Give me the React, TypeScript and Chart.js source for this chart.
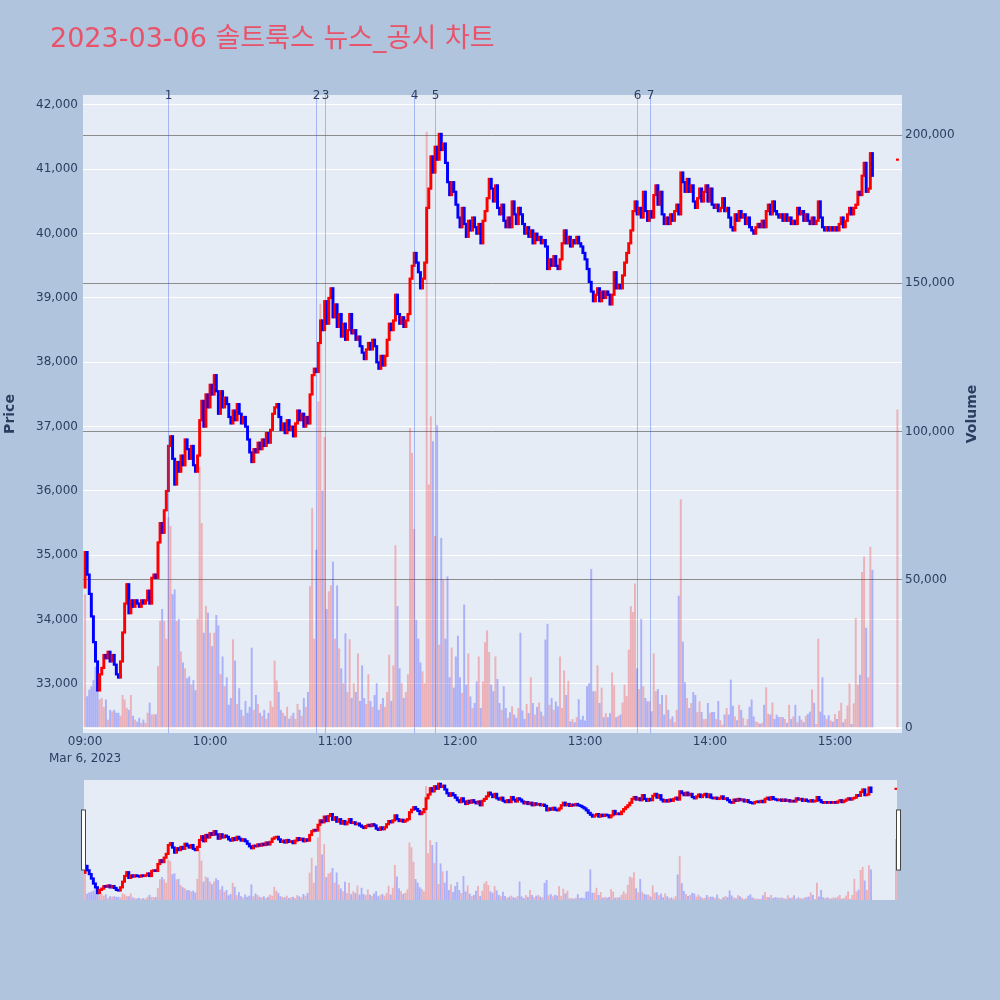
import { useEffect, useRef } from 'react';
import { Chart, registerables } from 'chart.js';

Chart.register(...registerables);

// ---- data ----
const titleText = '2023-03-06 솔트룩스 뉴스_공시 차트';
const dateLabel = 'Mar 6, 2023';
const hourTicks = [0, 60, 120, 180, 240, 300, 360]; // minutes after 09:00
const hourLabels = ['09:00', '10:00', '11:00', '12:00', '13:00', '14:00', '15:00'];
const priceTicks = [33000, 34000, 35000, 36000, 37000, 38000, 39000, 40000, 41000, 42000];
const volumeTicks = [0, 50000, 100000, 150000, 200000];

// news / disclosure markers (minutes after 09:00)
const newsMinutes = [40, 111, 115, 158, 168, 265, 271];
const newsLabels = ['1', '2', '3', '4', '5', '6', '7'];

// 1-minute closes from 09:00, open = previous close
const firstOpen = 34500;
const closes = [
  35050, 34700, 34400, 34050, 33650, 33350, 32900, 33150, 33250, 33450,
  33400, 33500, 33350, 33450, 33300, 33150, 33100, 33350, 33800, 34250,
  34550, 34100, 34300, 34200, 34300, 34250, 34200, 34300, 34250, 34300,
  34450, 34250, 34650, 34700, 34650, 35200, 35500, 35350, 35700, 36000,
  36700, 36850, 36500, 36100, 36450, 36300, 36550, 36400, 36800, 36650,
  36500, 36700, 36400, 36300, 36550, 37100, 37400, 37000, 37500, 37300,
  37650, 37500, 37800, 37550, 37200, 37550, 37300, 37450, 37350, 37150,
  37050, 37250, 37100, 37350, 37200, 37050, 37150, 37000, 36800, 36600,
  36450, 36650, 36600, 36750, 36650, 36800, 36700, 36900, 36750, 36950,
  37200, 37300, 37350, 37150, 36950, 37050, 36900, 37100, 36950, 37000,
  36850, 37050, 37250, 37100, 37200, 37000, 37150, 37050, 37500, 37800,
  37900, 37850, 38300, 38650, 38500, 38950, 38600, 39000, 39150, 38700,
  38900, 38550, 38750, 38400, 38600, 38350, 38500, 38750, 38450, 38500,
  38350, 38400, 38250, 38150, 38050, 38200, 38300, 38200, 38350, 38250,
  38000, 37900, 38100, 37950, 38100, 38350, 38600, 38500, 38650, 39050,
  38750, 38600, 38700, 38550, 38650, 38750, 39300, 39500, 39700, 39550,
  39400, 39150, 39300, 39550, 40400, 40700, 41200, 40950, 41350, 41150,
  41550, 41300, 41400, 41100, 40800, 40600, 40800, 40650, 40450, 40250,
  40100, 40400, 40150, 39950, 40200, 40050, 40250, 40100, 40000, 40150,
  39850, 40200, 40350, 40550, 40850, 40700, 40500, 40750, 40400, 40300,
  40450, 40200, 40100, 40250, 40100, 40500, 40300, 40150, 40400, 40300,
  40150, 40000, 40100, 39950, 40050, 39850, 40000, 39900, 39950, 39850,
  39900, 39800, 39450, 39600, 39500, 39650, 39500, 39450, 39600, 39850,
  40050, 39850, 39950, 39800, 39900, 39850, 39950, 39850, 39800, 39700,
  39600, 39450, 39250, 39100, 38950, 39050, 39150, 38950, 39100, 39000,
  39100, 39050, 38900, 39050, 39400, 39150, 39200, 39150, 39350, 39550,
  39700, 39850, 40050, 40350, 40500, 40300, 40400, 40250, 40650, 40350,
  40200, 40350, 40250, 40600, 40750, 40450, 40650, 40300, 40150, 40250,
  40150, 40300, 40200, 40350, 40450, 40300, 40950, 40800, 40650, 40850,
  40650, 40750, 40500, 40400, 40550, 40700, 40500, 40650, 40750, 40500,
  40700, 40450, 40400, 40450, 40350, 40400, 40550, 40350, 40400, 40250,
  40100, 40050, 40300, 40200, 40350, 40250, 40300, 40150, 40250, 40100,
  40050, 40000, 40100, 40150, 40100, 40200, 40100, 40350, 40450, 40300,
  40500, 40350, 40300, 40250, 40300, 40200, 40300, 40200, 40250, 40150,
  40200, 40150, 40400, 40300, 40350, 40200, 40300, 40200, 40150, 40250,
  40150, 40200, 40500, 40250, 40100, 40050, 40100, 40050, 40100, 40050,
  40100, 40050, 40150, 40250, 40100, 40200, 40300, 40400, 40300, 40400,
  40450, 40650, 40600, 40900, 41100, 40650, 40700, 41250, 40900,
];

const volumes = [
  45000, 10600, 12800, 13900, 16000, 20600, 12300, 9500, 10000, 7000,
  9500, 2700, 6000, 5500, 6000, 5000, 5000, 4000, 11000, 9500,
  6700, 6000, 11000, 4000, 2700, 2000, 3300, 1600, 2700, 1600,
  5000, 8400, 4500, 4500, 4500, 20700, 36000, 40000, 36000, 30000,
  71000, 68000, 45000, 46600, 36000, 36700, 25700, 22000, 20000, 16700,
  17300, 14600, 16000, 12600, 36700, 88000, 69000, 32000, 41000, 38800,
  32000, 27500, 32000, 38000, 34500, 18000, 24000, 14000, 17000, 7700,
  10000, 29800, 22600, 8000, 13300, 6000, 4000, 9000, 5000, 7000,
  27000, 6000, 11000, 8000, 5000, 4000, 6000, 3000, 5000, 9000,
  7000, 22600, 15900, 12000, 6000, 5000, 4000, 7000, 3000, 4000,
  5000, 3000, 8000, 6000, 4000, 10000, 7000, 12000, 47700, 74000,
  30000, 60000, 110000, 143000, 80000, 98000, 40000, 46000, 48000, 56000,
  30000, 48000, 26700, 20000, 15000, 31800, 12000, 29800, 10000, 15000,
  12000, 25000, 9000, 21000, 10000, 8000, 18000, 9000, 7000, 11000,
  15000, 6000, 8000, 10000, 7000, 12000, 24600, 9000, 21000, 61500,
  41000, 20000, 15000, 10000, 12000, 18000, 101000, 92600, 67000, 36400,
  30000, 22000, 19000, 15000, 201000, 82000, 105000, 96600, 64600, 102000,
  28000, 64000, 50000, 30000, 51000, 17000, 27000, 13500, 24000, 31000,
  17000, 11700, 41500, 14500, 25000, 10500, 6600, 8300, 15600, 24000,
  6600, 15600, 28800, 32800, 25500, 14500, 12300, 24000, 16400, 8300,
  6000, 14000, 6600, 3300, 5200, 7200, 4400, 3300, 6600, 32000,
  5800, 2900, 8000, 4900, 17000, 8300, 4400, 7000, 8500, 5400,
  4000, 29700, 35000, 7700, 10000, 6000, 8800, 7200, 24000, 6600,
  19300, 11000, 15800, 2100, 2900, 1800, 3500, 9600, 2700, 4000,
  2400, 14000, 15000, 53500, 12300, 12300, 21000, 8300, 13500, 3500,
  4900, 3500, 4900, 18600, 14300, 3500, 4000, 4400, 8500, 14500,
  10600, 26300, 41000, 39000, 48600, 20000, 13000, 36700, 14000, 10000,
  8900, 8900, 5500, 25000, 12300, 13000, 8000, 11000, 4400, 11000,
  6000, 2900, 3800, 1800, 6000, 44500, 77000, 29000, 15300, 10000,
  6600, 8300, 12000, 11000, 5300, 8900, 5300, 2900, 2900, 8300,
  5000, 5300, 5300, 2900, 9000, 2500, 1000, 4400, 6600, 4400,
  16200, 7400, 3800, 2500, 7700, 6000, 3300, 700, 2900, 7000,
  9500, 3800, 2100, 1800, 1300, 1600, 7700, 13600, 4700, 4400,
  8500, 2900, 4400, 3600, 3600, 3500, 2900, 1600, 7700, 2900,
  3800, 7700, 1800, 4000, 2700, 1800, 4000, 4600, 5400, 12900,
  8400, 1200, 30000, 5400, 17000, 4200, 2900, 4200, 2400, 2000,
  4600, 2900, 5700, 8400, 1800, 2900, 7500, 14900, 1200, 8200,
  37000, 14500, 17800, 52500, 57700, 33700, 16900, 61000, 53200,
];

// closing auction print at 15:30
const auctionMinute = 390;
const auctionPrice = 41150;
const auctionVolume = 107300;

// ---- styling ----
const pageBg = '#b0c4de';
const plotBg = '#e5ecf6';
const textColor = '#2a3f5f';
const upColor = '#ff0000';
const downColor = '#0000ff';
const volUp = 'rgba(255,0,0,0.25)';
const volDown = 'rgba(0,0,255,0.25)';
const newsColor = 'rgba(40,80,235,0.35)';
const fontFamily = '"DejaVu Sans", "Noto Sans CJK KR", sans-serif';

type Candle = { m: number; o: number; c: number; v: number };

const candles: Candle[] = closes.map((c, i) => ({
  m: i,
  o: i === 0 ? firstOpen : closes[i - 1],
  c,
  v: volumes[i],
}));
candles.push({ m: auctionMinute, o: auctionPrice, c: auctionPrice, v: auctionVolume });

const isUp = (k: Candle) => k.c >= k.o;

function buildDatasets(bodyPad: number, bodyWidth: number, volWidth: number) {
  return [
    {
      label: 'Price',
      data: candles.map((k) => ({
        x: k.m,
        y: [Math.min(k.o, k.c) - bodyPad, Math.max(k.o, k.c) + bodyPad],
      })),
      yAxisID: 'yPrice',
      backgroundColor: candles.map((k) => (isUp(k) ? upColor : downColor)),
      borderWidth: 0,
      barThickness: bodyWidth,
      grouped: false,
      order: 1,
    },
    {
      label: 'Volume',
      data: candles.map((k) => ({ x: k.m, y: k.v })),
      yAxisID: 'yVol',
      backgroundColor: candles.map((k) => (isUp(k) ? volUp : volDown)),
      borderWidth: 0,
      barThickness: volWidth,
      grouped: false,
      order: 2,
    },
  ];
}

const mainDecor = {
  id: 'mainDecor',
  beforeDraw(chart: any) {
    const { ctx, chartArea: a } = chart;
    const midY = (a.top + a.bottom) / 2;
    ctx.save();
    ctx.fillStyle = plotBg;
    ctx.fillRect(a.left, a.top, a.right - a.left, a.bottom - a.top);

    ctx.fillStyle = '#e9536a';
    ctx.font = `27px ${fontFamily}`;
    ctx.textAlign = 'left';
    ctx.textBaseline = 'middle';
    ctx.fillText(titleText, 50, 40);
    ctx.restore();

    [
      { text: 'Price', x: 10 },
      { text: 'Volume', x: 972 },
    ].forEach((t) => {
      ctx.save();
      ctx.fillStyle = textColor;
      ctx.font = `bold 14px ${fontFamily}`;
      ctx.textAlign = 'center';
      ctx.textBaseline = 'middle';
      ctx.translate(t.x, midY);
      ctx.rotate(-Math.PI / 2);
      ctx.fillText(t.text, 0, 0);
      ctx.restore();
    });
  },
  afterDatasetsDraw(chart: any) {
    const { ctx, chartArea: a, scales } = chart;
    ctx.save();
    ctx.strokeStyle = newsColor;
    ctx.lineWidth = 1;
    ctx.fillStyle = textColor;
    ctx.font = `12px ${fontFamily}`;
    ctx.textAlign = 'center';
    ctx.textBaseline = 'middle';
    newsMinutes.forEach((m, i) => {
      const x = Math.round(scales.x.getPixelForValue(m)) + 0.5;
      ctx.beginPath();
      ctx.moveTo(x, a.top);
      ctx.lineTo(x, a.bottom);
      ctx.stroke();
      ctx.fillText(newsLabels[i], x, a.top + 1);
    });
    ctx.restore();
  },
};

const sliderDecor = {
  id: 'sliderDecor',
  beforeDraw(chart: any) {
    const { ctx, chartArea: a } = chart;
    ctx.save();
    ctx.fillStyle = plotBg;
    ctx.fillRect(a.left, a.top, a.right - a.left, a.bottom - a.top);
    ctx.restore();
  },
  afterDraw(chart: any) {
    const { ctx, chartArea: a } = chart;
    const h = a.bottom - a.top;
    ctx.save();
    ctx.fillStyle = '#ffffff';
    ctx.strokeStyle = '#444';
    ctx.lineWidth = 1;
    [a.left - 2.5, a.right - 0.5].forEach((x) => {
      ctx.fillRect(x, a.top + h * 0.25, 4, h * 0.5);
      ctx.strokeRect(x, a.top + h * 0.25, 4, h * 0.5);
    });
    ctx.restore();
  },
};

const tickFont = { family: fontFamily, size: 12 };

export default function App() {
  const mainRef = useRef<HTMLCanvasElement>(null);
  const sliderRef = useRef<HTMLCanvasElement>(null);

  useEffect(() => {
    if (!mainRef.current || !sliderRef.current) return;

    const main = new Chart(mainRef.current, {
      type: 'bar',
      data: { datasets: buildDatasets(12, 2.3, 1.3) as any },
      options: {
        responsive: true,
        maintainAspectRatio: false,
        animation: false,
        layout: { padding: { top: 95, left: 0, right: 0, bottom: 0 } },
        plugins: {
          legend: { display: false },
          tooltip: { enabled: false },
        },
        scales: {
          x: {
            type: 'linear',
            min: -1,
            max: 392.2,
            offset: false,
            grid: { display: false, drawTicks: false },
            border: { display: false },
            afterBuildTicks: (s: any) => {
              s.ticks = hourTicks.map((v) => ({ value: v }));
            },
            afterFit: (s: any) => {
              s.height = 42;
            },
            ticks: {
              autoSkip: false,
              maxRotation: 0,
              padding: 0,
              color: textColor,
              font: { ...tickFont, lineHeight: 1.45 },
              callback: (v: any) => {
                const i = hourTicks.indexOf(Number(v));
                return i === 0 ? [hourLabels[0], dateLabel] : hourLabels[i];
              },
            },
          },
          yPrice: {
            type: 'linear',
            position: 'left',
            min: 32238,
            max: 42155,
            afterBuildTicks: (s: any) => {
              s.ticks = priceTicks.map((v) => ({ value: v }));
            },
            afterFit: (s: any) => {
              s.width = 83;
            },
            grid: { color: '#ffffff', lineWidth: 1, drawTicks: false },
            border: { display: false },
            ticks: {
              padding: 5,
              color: textColor,
              font: tickFont,
              callback: (v: any) => Number(v).toLocaleString('en-US'),
            },
          },
          yVol: {
            type: 'linear',
            position: 'right',
            min: -1700,
            max: 213500,
            afterBuildTicks: (s: any) => {
              s.ticks = volumeTicks.map((v) => ({ value: v }));
            },
            afterFit: (s: any) => {
              s.width = 98;
            },
            grid: {
              color: (c: any) => (c.tick && c.tick.value === 0 ? '#ffffff' : '#8c8c8c'),
              lineWidth: (c: any) => (c.tick && c.tick.value === 0 ? 2 : 1),
              drawTicks: false,
            },
            border: { display: false },
            ticks: {
              padding: 3,
              color: textColor,
              font: tickFont,
              callback: (v: any) => Number(v).toLocaleString('en-US'),
            },
          },
        },
      } as any,
      plugins: [mainDecor],
    });

    const slider = new Chart(sliderRef.current, {
      type: 'bar',
      data: { datasets: buildDatasets(60, 2.3, 1.2) as any },
      options: {
        responsive: true,
        maintainAspectRatio: false,
        animation: false,
        layout: { padding: { top: 4, left: 8, right: 9, bottom: 6 } },
        plugins: {
          legend: { display: false },
          tooltip: { enabled: false },
        },
        scales: {
          x: { type: 'linear', display: false, min: -0.5, max: 390.5, offset: false },
          yPrice: { type: 'linear', display: false, min: 32350, max: 41850 },
          yVol: { type: 'linear', display: false, min: 0, max: 212000 },
        },
      } as any,
      plugins: [sliderDecor],
    });

    return () => {
      main.destroy();
      slider.destroy();
    };
  }, []);

  return (
    <div
      style={{
        position: 'absolute',
        left: 0,
        top: 0,
        width: 1000,
        height: 1000,
        background: pageBg,
        overflow: 'hidden',
      }}
    >
      <div style={{ position: 'absolute', left: 0, top: 0, width: 1000, height: 775 }}>
        <canvas ref={mainRef}></canvas>
      </div>
      <div style={{ position: 'absolute', left: 76, top: 776, width: 830, height: 130 }}>
        <canvas ref={sliderRef}></canvas>
      </div>
    </div>
  );
}
